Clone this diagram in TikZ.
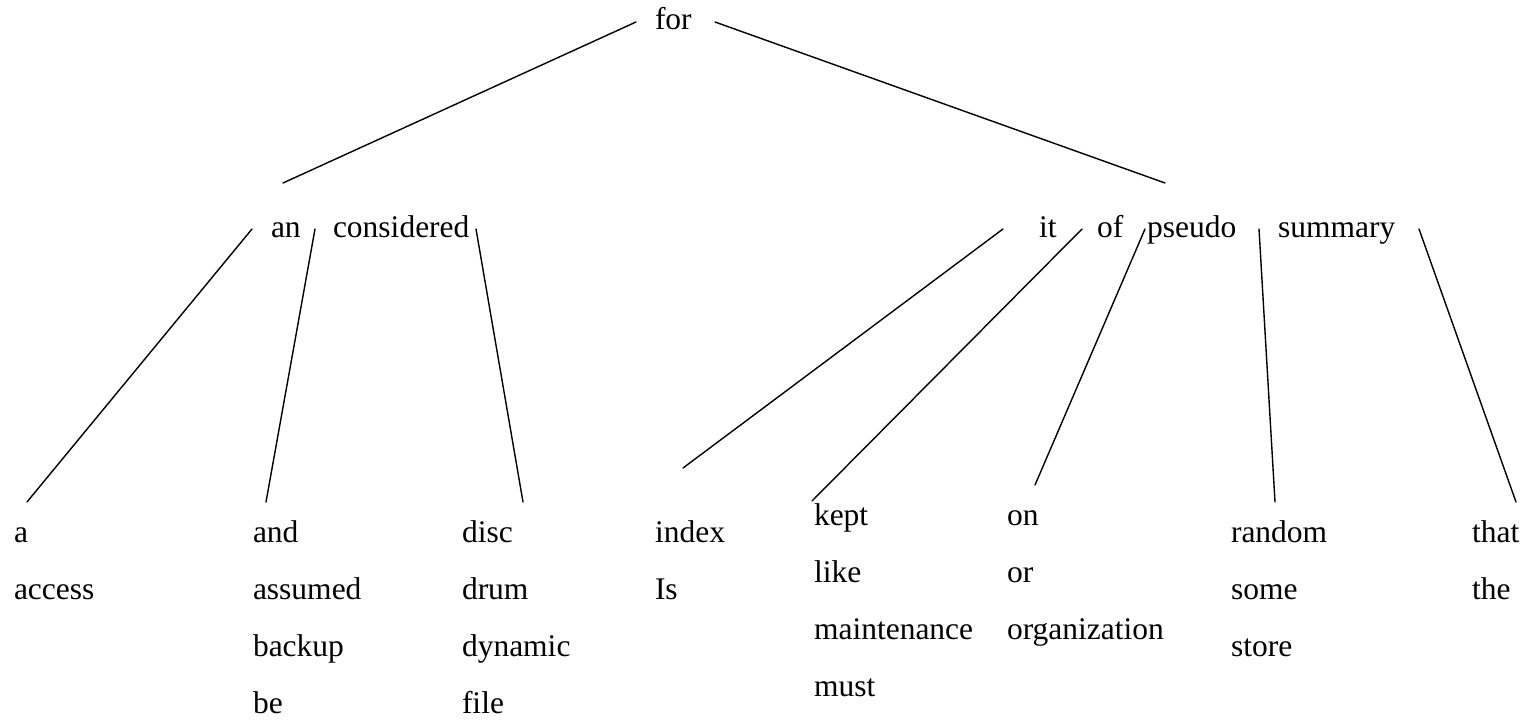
\documentclass[tikz,border=0pt]{standalone}
\usepackage{fontspec}
\setmainfont{Liberation Serif}
\begin{document}
\begin{tikzpicture}[x=1pt,y=-1pt,
  lbl/.style={inner sep=0pt,outer sep=0pt,anchor=base west,font=\fontsize{31.5}{37}\selectfont},
  edge/.style={line width=1.4pt,line cap=round}]
\useasboundingbox (0,0) rectangle (1526,722);
% root
\node[lbl] (for) at (655,30) {for};
% second row
\node[lbl] (an) at (271,237) {an};
\node[lbl] (considered) at (333,237) {considered};
\node[lbl] (it) at (1039,237) {it};
\node[lbl] (of) at (1097,237) {of};
\node[lbl] (pseudo) at (1147,237) {pseudo};
\node[lbl] (summary) at (1278,237) {summary};
% leaves
\foreach \w [count=\i from 0] in {a,access}
  \node[lbl] (c1-\i) at (14,542+57*\i) {\w};
\foreach \w [count=\i from 0] in {and,assumed,backup,be}
  \node[lbl] (c2-\i) at (253,542+57*\i) {\w};
\foreach \w [count=\i from 0] in {disc,drum,dynamic,file}
  \node[lbl] (c3-\i) at (462,542+57*\i) {\w};
\foreach \w [count=\i from 0] in {index,Is}
  \node[lbl] (c4-\i) at (655,542+57*\i) {\w};
\foreach \w [count=\i from 0] in {kept,like,maintenance,must}
  \node[lbl] (c5-\i) at (814,525+57*\i) {\w};
\foreach \w [count=\i from 0] in {on,or,organization}
  \node[lbl] (c6-\i) at (1007,525+57*\i) {\w};
\foreach \w [count=\i from 0] in {random,some,store}
  \node[lbl] (c7-\i) at (1231,542+57*\i) {\w};
\foreach \w [count=\i from 0] in {that,the}
  \node[lbl] (c8-\i) at (1472,542+57*\i) {\w};
% connector end points
\coordinate (forL) at (636,22);
\coordinate (forR) at (715,22);
\coordinate (gL) at (283,183);
\coordinate (gR) at (1165,183);
\coordinate (u1) at (252,229);
\coordinate (u2) at (315,229);
\coordinate (u3) at (476,229);
\coordinate (u4) at (1003,229);
\coordinate (u5) at (1082,229);
\coordinate (u6) at (1145,229);
\coordinate (u7) at (1259,229);
\coordinate (u8) at (1419,229);
\coordinate (d1) at (27,502);
\coordinate (d2) at (266,502);
\coordinate (d3) at (523,502);
\coordinate (d4) at (683,468);
\coordinate (d5) at (812,501);
\coordinate (d6) at (1035,485);
\coordinate (d7) at (1275,502);
\coordinate (d8) at (1516,502);
% connectors
\draw[edge] (forL) -- (gL);
\draw[edge] (forR) -- (gR);
\foreach \k in {1,...,8}
  \draw[edge] (u\k) -- (d\k);
\end{tikzpicture}
\end{document}
